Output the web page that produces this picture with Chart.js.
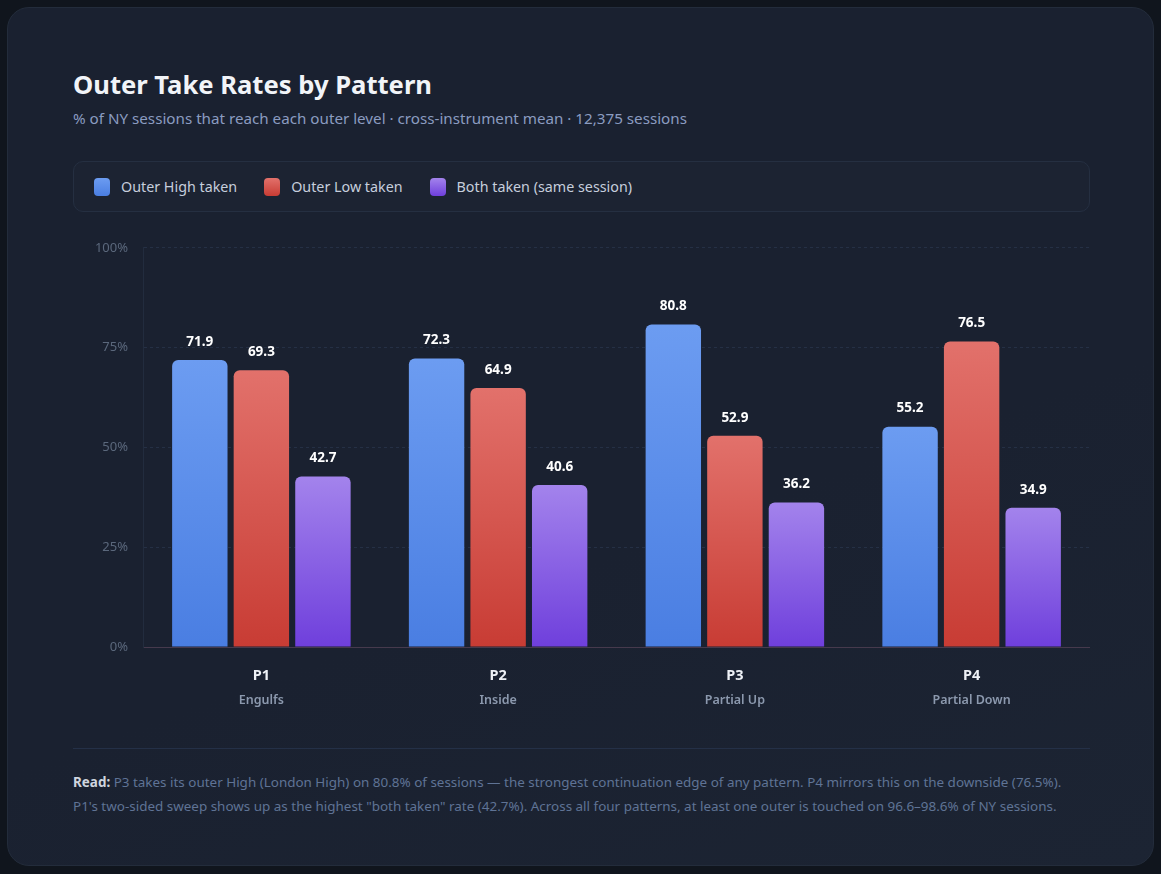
<!DOCTYPE html>
<html>
<head>
<meta charset="utf-8">
<script src="https://cdn.jsdelivr.net/npm/chart.js@4.4.1/dist/chart.umd.min.js"></script>
<style>
  html, body { margin: 0; padding: 0; }
  body {
    width: 1161px; height: 874px; overflow: hidden;
    background: #10151d;
    font-family: 'Noto Sans', 'Open Sans', sans-serif;
  }
  .card {
    position: absolute; left: 7px; top: 7px; width: 1145px; height: 857px;
    border-radius: 22px;
    border: 1px solid #232c3b;
    background: linear-gradient(160deg, #1a2130 0%, #1a2130 60%, #1c2433 100%);
  }
  .title {
    position: absolute; left: 65px; top: 61px;
    font-size: 25.6px; line-height: 32px; font-weight: 700; color: #f1f4f8;
  }
  .subtitle {
    position: absolute; left: 65px; top: 100px;
    font-size: 15.2px; line-height: 20px; color: #8b9cc0;
  }
  .legend {
    position: absolute; left: 65px; top: 153px; width: 1017px; height: 51px;
    border: 1px solid #252f41; border-radius: 10px;
    background: rgba(255, 255, 255, 0.012);
    display: flex; align-items: center; padding-left: 20px; box-sizing: border-box;
  }
  .legend .item { display: flex; align-items: center; margin-right: 27px; }
  .legend .sw { width: 16px; height: 18px; border-radius: 4px; margin-right: 11px; }
  .legend .lbl { font-size: 14.3px; color: #c6cedd; }
  .chart-box {
    position: absolute; left: 65px; top: 217px; width: 1017px; height: 498px;
  }
  .divider {
    position: absolute; left: 65px; top: 740px; width: 1017px; height: 1px;
    background: #243047;
  }
  .read {
    position: absolute; left: 65px; top: 762px; width: 1040px;
    font-size: 13.45px; line-height: 24px; color: #5f7395;
  }
  .read b { color: #cfd5df; }
</style>
</head>
<body>
<div class="card">
  <div class="title">Outer Take Rates by Pattern</div>
  <div class="subtitle">% of NY sessions that reach each outer level · cross-instrument mean · 12,375 sessions</div>
  <div class="legend" id="legend"></div>
  <div class="chart-box"><canvas id="chart"></canvas></div>
  <div class="divider"></div>
  <div class="read"><b>Read:</b> P3 takes its outer High (London High) on 80.8% of sessions — the strongest continuation edge of any pattern. P4 mirrors this on the downside (76.5%).<br>P1's two-sided sweep shows up as the highest "both taken" rate (42.7%). Across all four patterns, at least one outer is touched on 96.6–98.6% of NY sessions.</div>
</div>
<script>
  const patterns = ['P1', 'P2', 'P3', 'P4'];
  const patternNames = ['Engulfs', 'Inside', 'Partial Up', 'Partial Down'];
  const seriesNames = ['Outer High taken', 'Outer Low taken', 'Both taken (same session)'];
  const outerHigh = [71.9, 72.3, 80.8, 55.2];
  const outerLow = [69.3, 64.9, 52.9, 76.5];
  const bothTaken = [42.7, 40.6, 36.2, 34.9];
  const yTicks = [0, 25, 50, 75, 100];

  // top / bottom colour of each bar gradient
  const colors = [
    ['#6c9cf1', '#4a7ee2'],
    ['#e2716b', '#c83c34'],
    ['#a383ec', '#6f3fdc'],
  ];

  const legend = document.getElementById('legend');
  seriesNames.forEach((name, i) => {
    const item = document.createElement('div');
    item.className = 'item';
    const sw = document.createElement('div');
    sw.className = 'sw';
    sw.style.background = `linear-gradient(180deg, ${colors[i][0]}, ${colors[i][1]})`;
    const lbl = document.createElement('span');
    lbl.className = 'lbl';
    lbl.textContent = name;
    item.append(sw, lbl);
    legend.append(item);
  });

  function barGradient(i) {
    return (context) => {
      const { chart } = context;
      const { ctx, chartArea, scales } = chart;
      if (!chartArea || context.type !== 'data') return colors[i][0];
      const top = scales.y.getPixelForValue(context.raw);
      const bottom = scales.y.getPixelForValue(0);
      const g = ctx.createLinearGradient(0, top, 0, bottom);
      g.addColorStop(0, colors[i][0]);
      g.addColorStop(1, colors[i][1]);
      return g;
    };
  }

  const valueLabels = {
    id: 'valueLabels',
    afterDatasetsDraw(chart) {
      const { ctx } = chart;
      ctx.save();
      ctx.font = "bold 13.5px 'Noto Sans', sans-serif";
      ctx.fillStyle = '#ffffff';
      ctx.textAlign = 'center';
      ctx.textBaseline = 'middle';
      chart.data.datasets.forEach((ds, di) => {
        chart.getDatasetMeta(di).data.forEach((bar, i) => {
          ctx.fillText(ds.data[i].toFixed(1), bar.x, bar.y - 18);
        });
      });
      ctx.restore();
    },
  };

  const categoryLabels = {
    id: 'categoryLabels',
    afterDraw(chart) {
      const { ctx, scales } = chart;
      const base = scales.y.getPixelForValue(0);
      ctx.save();
      ctx.textAlign = 'center';
      ctx.textBaseline = 'middle';
      patterns.forEach((p, i) => {
        const x = scales.x.getPixelForValue(i);
        ctx.font = "bold 14.5px 'Noto Sans', sans-serif";
        ctx.fillStyle = '#eef1f6';
        ctx.fillText(p, x, base + 29);
        ctx.font = "600 12.5px 'Noto Sans', sans-serif";
        ctx.fillStyle = '#8c99ae';
        ctx.fillText(patternNames[i], x, base + 53);
      });
      ctx.restore();
    },
  };

  new Chart(document.getElementById('chart'), {
    type: 'bar',
    data: {
      labels: patterns,
      datasets: [outerHigh, outerLow, bothTaken].map((values, i) => ({
        label: seriesNames[i],
        data: values,
        backgroundColor: barGradient(i),
        borderRadius: 6,
        categoryPercentage: 0.78,
        barPercentage: 0.9,
      })),
    },
    options: {
      animation: false,
      responsive: true,
      maintainAspectRatio: false,
      layout: { padding: { top: 7, right: 0, left: 0, bottom: 0 } },
      plugins: {
        legend: { display: false },
        tooltip: { enabled: false },
      },
      scales: {
        x: {
          grid: { display: false },
          border: { display: true, color: '#463a4d' },
          ticks: { display: false },
          afterFit: (scale) => { scale.height = 76; },
        },
        y: {
          min: 0,
          max: 100,
          afterBuildTicks: (scale) => { scale.ticks = yTicks.map((v) => ({ value: v })); },
          afterFit: (scale) => { scale.width = 70; },
          grid: {
            color: 'rgba(70, 88, 125, 0.28)',
            drawTicks: false,
          },
          border: { display: true, color: '#222c3e', dash: [3, 3] },
          ticks: {
            padding: 15,
            color: '#5b687c',
            font: { size: 13, family: "'Noto Sans', sans-serif" },
            callback: (v) => `${v}%`,
          },
        },
      },
    },
    plugins: [valueLabels, categoryLabels],
  });
</script>
</body>
</html>
